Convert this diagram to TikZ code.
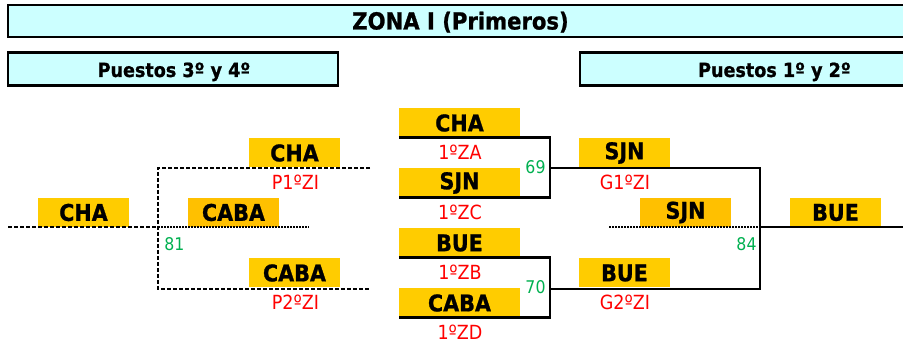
\documentclass[tikz,border=0pt]{standalone}
\usepackage{fontspec}
\setmainfont{DejaVu Sans}[FakeStretch=0.9, BoldFeatures={FakeBold=1}]
\definecolor{tyellow}{HTML}{FFCC00}
\definecolor{tdark}{HTML}{FFC000}
\definecolor{tcyan}{HTML}{CCFFFF}
\definecolor{tred}{HTML}{FF0000}
\definecolor{tgreen}{HTML}{00B050}
\begin{document}
\begin{tikzpicture}[x=1pt,y=-1pt,
  team/.style={fill=tyellow, minimum width=91pt, minimum height=29pt, inner sep=0pt, font=\bfseries\fontsize{23}{23}\selectfont},
  wide/.style={team, minimum width=121pt},
  win/.style={team, fill=tdark},
  lbl/.style={text=tred, inner sep=0pt, font=\fontsize{19.5}{19.5}\selectfont},
  num/.style={text=tgreen, inner sep=0pt, font=\fontsize{17.5}{17.5}\selectfont},
  head/.style={inner sep=0pt, anchor=base, font=\bfseries\fontsize{19.5}{19.5}\selectfont},
  sol/.style={line width=2.5pt},
  dsh/.style={line width=2.2pt, dash pattern=on 4pt off 2pt},
  dotl/.style={line width=2.2pt, dash pattern=on 2pt off 1pt},
  frame/.style={line width=2.5pt},
]
\useasboundingbox (0,0) rectangle (903,344);
% header boxes
\fill[tcyan] (8,5) rectangle (903,37);
\draw[frame] (904,5) -- (8,5) -- (8,37) -- (904,37);
\node[inner sep=0pt, anchor=base, font=\bfseries\fontsize{23.5}{23.5}\selectfont] (title) at (460.5,29.5) {ZONA I (Primeros)};
\fill[tcyan] (8,52.7) rectangle (338,85.7);
\draw[frame] (8,52.7) rectangle (338,85.7);
\node[head] (h34) at (174,77) {Puestos 3º y 4º};
\fill[tcyan] (580,52.7) rectangle (903,85.7);
\draw[frame] (904,52.7) -- (580,52.7) -- (580,85.7) -- (904,85.7);
\node[head] (h12) at (774.5,77) {Puestos 1º y 2º};
% team boxes
\node[team] (c3) at (83.5,212.5) {CHA};
\node[team] (p1) at (294.5,153) {CHA};
\node[win] (mid3) at (233.5,212.5) {CABA};
\node[team] (p2) at (294.5,273) {CABA};
\node[wide] (za) at (459.5,123) {CHA};
\node[wide] (zc) at (459.5,183) {SJN};
\node[wide] (zb) at (459.5,243) {BUE};
\node[wide] (zd) at (459.5,303) {CABA};
\node[team] (g1) at (624.5,153) {SJN};
\node[win] (mid1) at (685.5,212.5) {SJN};
\node[team] (g2) at (624.5,273) {BUE};
\node[team] (champ) at (835.5,212.5) {BUE};
% red labels
\node[lbl] (lza) at (460,152) {1ºZA};
\node[lbl] (lzc) at (460,212) {1ºZC};
\node[lbl] (lzb) at (460,272) {1ºZB};
\node[lbl] (lzd) at (460,332) {1ºZD};
\node[lbl] (lp1) at (295.5,182) {P1ºZI};
\node[lbl] (lp2) at (295.5,302.5) {P2ºZI};
\node[lbl] (lg1) at (625,182) {G1ºZI};
\node[lbl] (lg2) at (625,302.5) {G2ºZI};
% match numbers
\node[num] (n69) at (535.5,167.5) {69};
\node[num] (n70) at (535.5,287) {70};
\node[num] (n81) at (174.5,244.5) {81};
\node[num] (n84) at (746.5,244.5) {84};
% junction coordinates
\coordinate (b1) at (550,168);
\coordinate (b2) at (550,289);
\coordinate (b3) at (760,227);
\coordinate (rend) at (903,227);
\coordinate (d1) at (609,227);
\coordinate (a1) at (158,168);
\coordinate (a2) at (158,289);
\coordinate (a3) at (158,227);
\coordinate (e1) at (370,168);
\coordinate (e2) at (370,289);
\coordinate (l0) at (8,227);
\coordinate (d3) at (309,227);
% right side brackets
\draw[sol] (za.south west) -| (b1) |- (zc.south west);
\draw[sol] (zb.south west) -| (b2) |- (zd.south west);
\draw[sol] (b1) -| (b3) |- (b2);
\draw[sol] (b3) -- (rend);
\draw[dotl] (d1) -- (b3);
% left side brackets
\draw[dsh] (l0) -- (a3);
\draw[dsh] (e1) -- (a1) -- (a2) -- (e2);
\draw[dotl] (a3) -- (d3);
\end{tikzpicture}
\end{document}
